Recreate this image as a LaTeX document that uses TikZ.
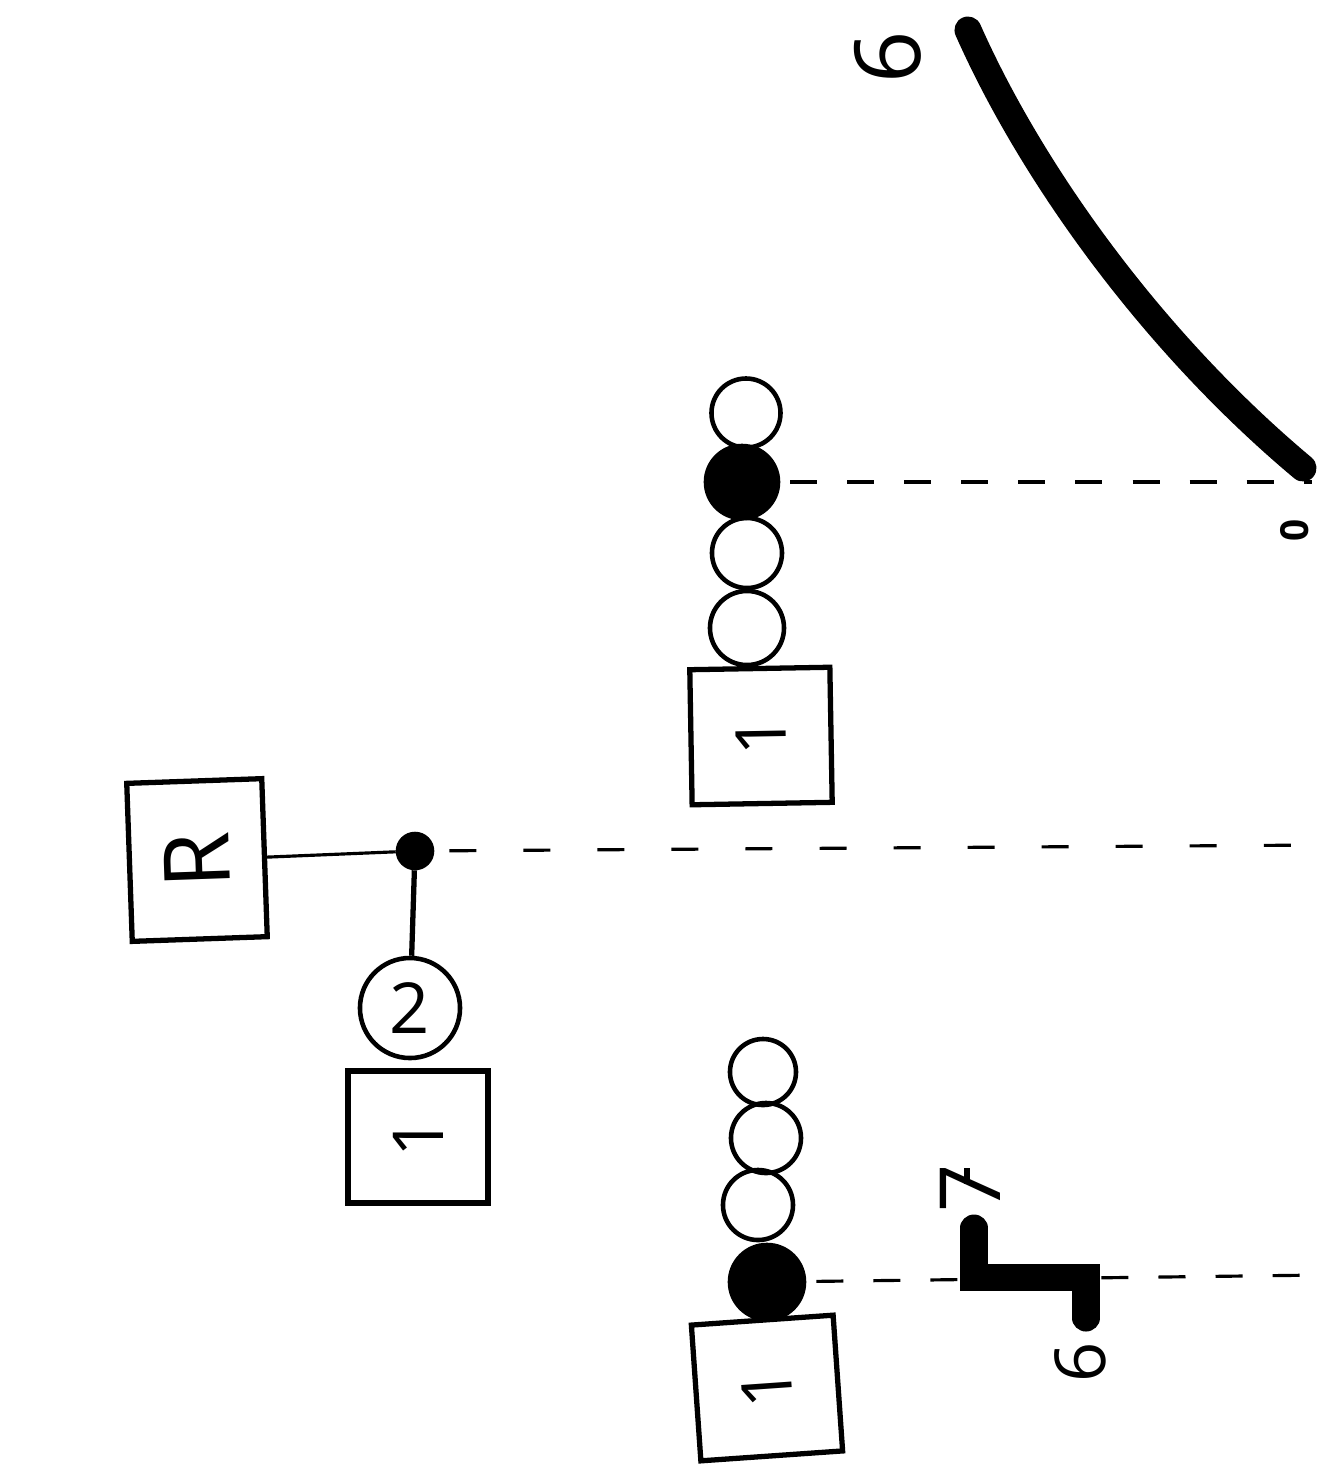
\documentclass[tikz,border=0pt]{standalone}
\usepackage{fontspec}
\setmainfont{Open Sans}
\usetikzlibrary{
	math,
}
\tikzstyle{bead} = [draw, circle, line width=1.3pt, inner sep=0pt, minimum size=0.7cm]
\tikzstyle{filled} = [bead, fill=black]
\tikzstyle{block} = [draw, rectangle, line width=1.5pt, inner sep=0pt, rotate=90, font=\fontsize{20}{24}\selectfont]
\tikzstyle{tick} = [inner sep=0pt, rotate=90, font=\fontsize{26}{30}\selectfont]
\tikzstyle{guide} = [line width=0.9pt, dash pattern=on 0.27cm off 0.3cm, shorten <=0.1cm]
\tikzstyle{heavy} = [line width=0.27cm, line cap=round]

\begin{document}
\begin{tikzpicture}[x=0.01cm, y=-0.01cm]
	\useasboundingbox (0, 0) rectangle (1323, 1468);

	% top stack
	\node[bead, minimum size=0.69cm] (topa) at (746, 413) {};
	\node[filled, minimum size=0.72cm] (topb) at (742, 482) {};
	\node[bead] (topc) at (747, 553) {};
	\node[bead, minimum size=0.74cm] (topd) at (747, 628) {};
	\node[block, rotate=1, minimum width=1.35cm, minimum height=1.4cm] (topbox) at (761, 736) {1};

	% curve and its ends
	\coordinate (curveend) at (1303, 468);
	\coordinate (curvefoot) at (1312, 482);
	\draw[heavy] (968, 30) .. controls (1030, 170) and (1150, 340) .. (curveend);
	\node[tick] (six) at (888, 57) {6};
	\node[tick, font=\bfseries\fontsize{11}{13}\selectfont] (zero) at (1295, 530) {0};
	\draw[guide] (topb) -- (curvefoot);

	% left pair
	\node[block, rotate=2, minimum width=1.58cm, minimum height=1.35cm, font=\fontsize{26}{30}\selectfont] (rbox) at (197, 860) {R};
	\node[filled, minimum size=0.34cm] (dot) at (415, 851) {};
	\node[bead, minimum size=1cm, font=\fontsize{20}{24}\selectfont] (twobead) at (410, 1008) {2};
	\node[block, minimum width=1.32cm, minimum height=1.4cm] (midbox) at (418, 1137) {1};
	\coordinate (rightedge) at (1323, 845);
	\draw[line width=0.9pt] (rbox) -- (dot);
	\draw[line width=1.5pt] (dot) -- (twobead);
	\draw[line width=0.9pt, dash pattern=on 0.27cm off 0.47cm, shorten <=0.15cm] (dot) -- (rightedge);

	% bottom stack
	\node[bead, minimum size=0.66cm] (lowa) at (763, 1072) {};
	\node[bead] (lowb) at (766, 1138) {};
	\node[bead] (lowc) at (758, 1205) {};
	\node[filled, minimum size=0.74cm] (lowd) at (767, 1282) {};
	\node[block, rotate=4, minimum width=1.36cm, minimum height=1.42cm] (lowbox) at (767, 1388) {1};
	\coordinate (lowedge) at (1323, 1275);
	\draw[guide] (lowd) -- (lowedge);

	% stepped mark
	\draw[heavy] (974, 1228) -- (974, 1277) -- (1086, 1277) -- (1086, 1318);
	\node[tick, font=\fontsize{24}{28}\selectfont] (seven) at (970, 1188) {7};
	\draw[line width=1.5pt] (967, 1168) -- (967, 1184);
	\node[tick, font=\fontsize{20}{24}\selectfont] (lowsix) at (1080, 1362) {6};
\end{tikzpicture}
\end{document}
